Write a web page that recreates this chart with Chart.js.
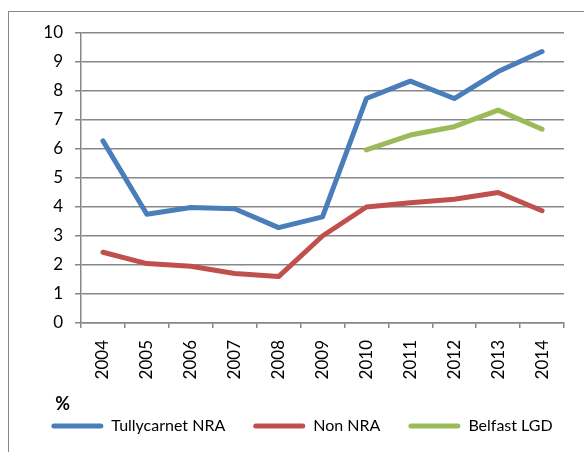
<!DOCTYPE html>
<html>
<head>
<meta charset="utf-8">
<script src="https://cdn.jsdelivr.net/npm/chart.js@4"></script>
<style>
  html, body { margin: 0; padding: 0; background: #fff; overflow: hidden; }
  #frame { position: absolute; left: 8px; top: 11px; width: 620px; height: 480px; border: 1px solid #888; }
  #wrap { position: absolute; left: 0; top: 0; width: 584px; height: 452px; }
</style>
</head>
<body>
<div id="frame"></div>
<div id="wrap"><canvas id="myChart" width="584" height="452"></canvas></div>
<script>
const years = ["2004", "2005", "2006", "2007", "2008", "2009", "2010", "2011", "2012", "2013", "2014"];
const tullycarnet = [6.28, 3.75, 3.98, 3.94, 3.29, 3.66, 7.74, 8.34, 7.74, 8.67, 9.36];
const nonNra = [2.44, 2.05, 1.96, 1.71, 1.6, 3.0, 4.0, 4.15, 4.27, 4.5, 3.87];
const belfast = [null, null, null, null, null, null, 5.97, 6.48, 6.77, 7.34, 6.68];

const gridColor = "#878787";
const font = { family: "Lato", size: 17 };

function lineSet(label, data, color) {
  return {
    label: label,
    data: data,
    borderColor: color,
    backgroundColor: color,
    borderWidth: 5,
    pointRadius: 0,
    borderCapStyle: "round",
    borderJoinStyle: "round",
    fill: false,
    tension: 0,
  };
}

const ctx = document.getElementById("myChart");

new Chart(ctx, {
  type: "line",
  data: {
    labels: years,
    datasets: [
      lineSet("Tullycarnet NRA", tullycarnet, "#4a7ebb"),
      lineSet("Non NRA", nonNra, "#c0504d"),
      lineSet("Belfast LGD", belfast, "#9bbb59"),
    ],
  },
  options: {
    responsive: false,
    animation: false,
    layout: { padding: { left: 20, right: 0, top: 33, bottom: 8 } },
    scales: {
      x: {
        offset: true,
        grid: { offset: true, drawOnChartArea: false, tickLength: 5, color: gridColor, lineWidth: 1.5 },
        border: { color: gridColor, width: 1.5 },
        ticks: { minRotation: 90, maxRotation: 90, padding: 12, font: font, color: "#000" },
        afterFit: (scale) => { scale.height = 72; },
      },
      y: {
        min: 0,
        max: 10,
        grid: { tickLength: 6, color: gridColor, lineWidth: 1.5 },
        border: { color: gridColor, width: 1.5 },
        ticks: { stepSize: 1, padding: 12, font: font, color: "#000" },
        afterFit: (scale) => { scale.width = 61; },
      },
      // empty right-hand strip so the plot ends before the legend does
      spacer: {
        position: "right",
        grid: { display: false },
        border: { display: false },
        ticks: { display: false },
        afterFit: (scale) => { scale.width = 20; },
      },
    },
    plugins: {
      tooltip: { enabled: false },
      legend: {
        position: "bottom",
        align: "center",
        title: {
          display: true,
          text: "\u2003 %",
          position: "start",
          color: "#000",
          font: { family: "Lato", size: 18, weight: "bold" },
          padding: { top: 0, bottom: -26.6 },
        },
        labels: {
          font: { family: "Lato", size: 16 },
          color: "#000",
          boxWidth: 52,
          boxHeight: 5,
          padding: 28,
          useBorderRadius: true,
          borderRadius: 2.5,
          generateLabels: (chart) =>
            Chart.defaults.plugins.legend.labels.generateLabels(chart).map((l) => ({ ...l, lineWidth: 0 })),
        },
      },
    },
  },
});
</script>
</body>
</html>
